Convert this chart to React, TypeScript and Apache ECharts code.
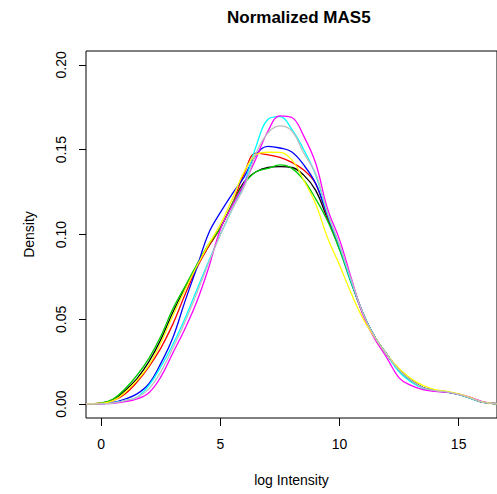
import React, { useEffect, useRef } from "react";
import * as echarts from "echarts";

const xs = [-0.64, 0, 0.5, 1, 1.5, 2, 2.5, 3, 3.5, 4, 4.5, 5, 5.5, 6, 6.5, 7, 7.5, 8, 8.5, 9, 9.5, 10, 10.5, 11, 11.5, 12, 12.5, 13, 13.5, 14, 14.5, 15, 15.5, 16, 16.6];

const blackVals = [.0001,.0006,.0025,.008,.015,.025,.038,.054,.068,.081,.093,.104,.118,.131,.137,.1395,.140,.1395,.135,.126,.109,.092,.072,.053,.039,.029,.020,.014,.0098,.008,.0072,.0058,.0035,.0012,.0002];
const redVals = [.0001,.0005,.002,.006,.013,.022,.033,.047,.064,.080,.093,.104,.118,.136,.148,.147,.1455,.1425,.138,.130,.110,.093,.072,.053,.039,.029,.020,.014,.0097,.008,.0072,.0058,.0035,.0012,.0002];
const greenVals = [.0001,.0007,.003,.009,.017,.027,.040,.056,.069,.082,.094,.104,.118,.130,.137,.139,.141,.139,.132,.121,.108,.091,.071,.053,.039,.029,.020,.014,.0097,.008,.0072,.0057,.0035,.0012,.0002];
const blueVals = [.0001,.0003,.001,.003,.006,.012,.024,.039,.060,.080,.1005,.113,.124,.134,.147,.152,.151,.1487,.141,.130,.111,.093,.072,.053,.039,.029,.020,.014,.0097,.008,.0071,.0057,.0035,.0012,.0002];
const cyanVals = [.0001,.0003,.0008,.002,.004,.011,.022,.035,.050,.067,.084,.100,.115,.130,.152,.168,.1695,.162,.150,.135,.112,.093,.072,.053,.039,.029,.019,.013,.0093,.0078,.007,.0056,.0034,.0012,.0002];
const magentaVals = [.0001,.0002,.0005,.0015,.003,.0067,.016,.030,.044,.060,.080,.103,.117,.130,.145,.161,.170,.169,.158,.142,.115,.097,.074,.052,.038,.027,.0155,.011,.0085,.0075,.007,.0058,.004,.0015,.0003];
const yellowVals = [.0001,.0005,.002,.007,.014,.023,.036,.052,.067,.081,.094,.106,.121,.137,.147,.1485,.1484,.144,.132,.118,.098,.082,.065,.050,.039,.029,.021,.015,.011,.0085,.0075,.006,.0038,.0013,.0002];
const grayVals = [.0001,.0002,.0006,.002,.004,.009,.019,.033,.048,.065,.083,.100,.115,.128,.148,.160,.164,.161,.148,.136,.113,.094,.073,.053,.039,.029,.020,.014,.0097,.008,.0072,.0058,.0035,.0012,.0002];

const seriesList = [blackVals, redVals, greenVals, blueVals, cyanVals, magentaVals, yellowVals, grayVals];
const seriesNames = ["s1", "s2", "s3", "s4", "s5", "s6", "s7", "s8"];
const colors = ["#000000", "#FF0000", "#00CD00", "#0000FF", "#00FFFF", "#FF00FF", "#FFFF00", "#BEBEBE"];

const xTicks = [0, 5, 10, 15];
const yTicks = [0, 0.05, 0.1, 0.15, 0.2];

const FONT = "'Liberation Sans', Arial, Helvetica, sans-serif";

export default function App() {
  const ref = useRef<HTMLDivElement>(null);
  useEffect(() => {
    if (!ref.current) return;
    const chart = echarts.init(ref.current, undefined, { renderer: "svg" });
    chart.setOption({
      animation: false,
      backgroundColor: "#ffffff",
      title: {
        text: "Normalized MAS5",
        left: 222,
        top: 4,
        textStyle: { fontFamily: FONT, fontSize: 17, fontWeight: "bold", color: "#000" },
      },
      grid: {
        left: 86,
        top: 51,
        width: 419,
        height: 367,
        show: true,
        borderColor: "#000",
        borderWidth: 1,
        backgroundColor: "transparent",
      },
      xAxis: {
        type: "value",
        min: -0.64,
        max: 16.61,
        name: "log Intensity",
        nameLocation: "middle",
        nameGap: 55,
        nameTextStyle: { fontFamily: FONT, fontSize: 14, color: "#000" },
        axisLine: { show: false, onZero: false },
        splitLine: { show: false },
        axisTick: { show: true, length: 8, customValues: xTicks, lineStyle: { color: "#000" } },
        axisLabel: {
          customValues: xTicks,
          margin: 19,
          fontFamily: FONT,
          fontSize: 14,
          color: "#000",
        },
      },
      yAxis: {
        type: "value",
        min: -0.0082,
        max: 0.2082,
        name: "Density",
        nameLocation: "middle",
        nameGap: 50,
        nameRotate: 90,
        nameTextStyle: { fontFamily: FONT, fontSize: 14, color: "#000" },
        axisLine: { show: false, onZero: false },
        splitLine: { show: false },
        axisTick: { show: true, length: 7, customValues: yTicks, lineStyle: { color: "#000" } },
        axisLabel: {
          customValues: yTicks,
          rotate: 90,
          margin: 18,
          fontFamily: FONT,
          fontSize: 14,
          color: "#000",
          formatter: (v: number) => v.toFixed(2),
        },
      },
      series: seriesList.map((vals, i) => ({
        name: seriesNames[i],
        type: "line",
        data: xs.map((x, j) => [x, vals[j]]),
        smooth: 0.4,
        showSymbol: false,
        symbol: "none",
        lineStyle: { color: colors[i], width: 1.3 },
        itemStyle: { color: colors[i] },
        clip: true,
      })),
    });
    return () => chart.dispose();
  }, []);
  return (
    <div
      ref={ref}
      style={{ position: "fixed", left: 0, top: 0, width: 497, height: 494, background: "#fff" }}
    />
  );
}
